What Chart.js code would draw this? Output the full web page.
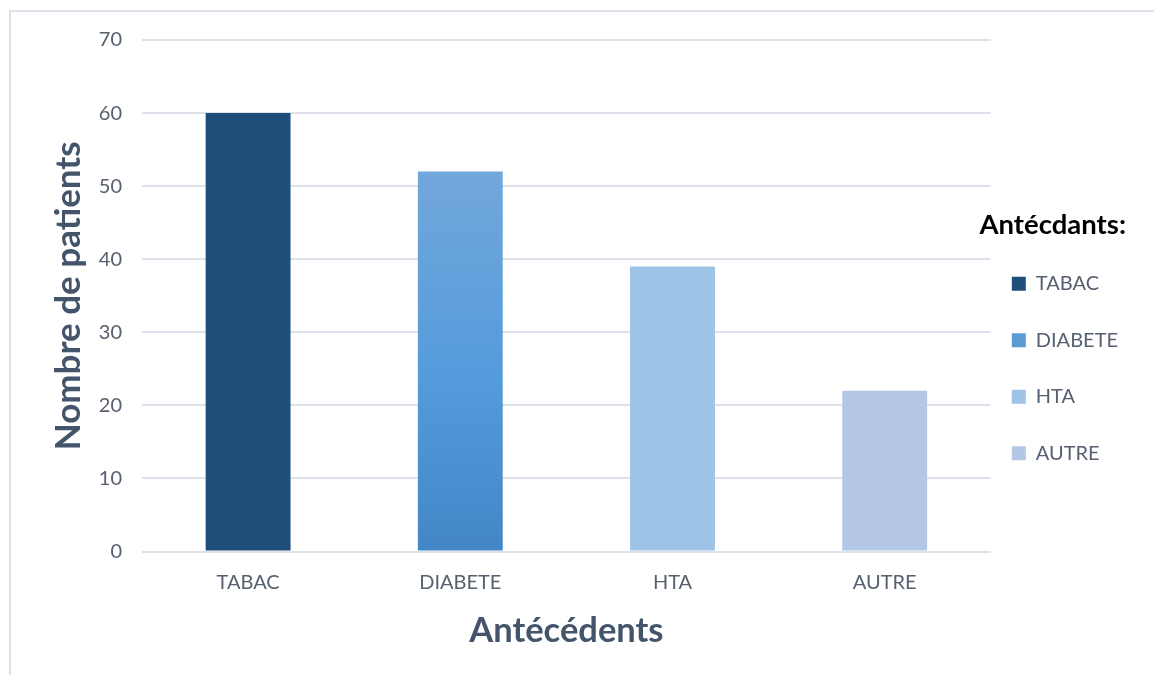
<!DOCTYPE html>
<html>
<head>
<meta charset="utf-8">
<script src="https://cdn.jsdelivr.net/npm/chart.js@4/dist/chart.umd.min.js"></script>
<style>
  html, body { margin: 0; padding: 0; background: #ffffff; }
  canvas { display: block; }
</style>
</head>
<body>
<canvas id="chart" width="1154" height="675"></canvas>
<script>
// Antécédents des patients
const categories = ['TABAC', 'DIABETE', 'HTA', 'AUTRE'];
const patients = [60, 52, 39, 22];
const yTicks = [0, 10, 20, 30, 40, 50, 60, 70];
const legendHeading = 'Antécdants:';

const FONT = 'Lato, "Open Sans", "DejaVu Sans", sans-serif';
const TICK_COLOR = '#56606F';
const TITLE_COLOR = '#44546A';
const GRID_COLOR = '#DDE2EA';
const TICK_SIZE = 20;
const HEADING_SIZE = 27.5;
const HEADING_PAD = { top: 6, bottom: 8.5 };
const LEGEND_PAD = 21;

// solid fills; DIABETE uses a vertical gradient (see barFill)
const solidColors = ['#1F4E79', '#5B9BD5', '#9DC3E6', '#B4C7E7'];

function barFill(context) {
  const i = context.dataIndex;
  if (i !== 1) return solidColors[i];
  const chart = context.chart;
  const y = chart.scales && chart.scales.y;
  if (!y) return solidColors[i];
  const top = y.getPixelForValue(patients[i]);
  const bottom = y.getPixelForValue(0);
  const g = chart.ctx.createLinearGradient(0, top, 0, bottom);
  g.addColorStop(0, '#72A7DB');
  g.addColorStop(0.55, '#549BDC');
  g.addColorStop(1, '#4286C6');
  return g;
}

// light frame along the top and left edges
const framePlugin = {
  id: 'frame',
  beforeDraw(chart) {
    const c = chart.ctx;
    c.save();
    c.fillStyle = '#ffffff';
    c.fillRect(0, 0, chart.width, chart.height);
    c.fillStyle = '#DCE2EA';
    c.fillRect(9, 10, chart.width - 9, 2);
    c.fillRect(9, 10, 2, chart.height - 10);
    c.restore();
  }
};

// The legend clips to its own box, so its heading (wider than the box)
// is painted here, unclipped, in the slot the legend reserves for it.
const legendHeadingPlugin = {
  id: 'legendHeading',
  afterDraw(chart) {
    const lg = chart.legend;
    if (!lg || !lg.legendHitBoxes || !lg.legendHitBoxes.length) return;
    const titleH = HEADING_SIZE * 1.2 + HEADING_PAD.top + HEADING_PAD.bottom;
    const y = lg.legendHitBoxes[0].top - LEGEND_PAD - titleH + HEADING_PAD.top + HEADING_SIZE / 2;
    const c = chart.ctx;
    c.save();
    c.font = 'bold ' + HEADING_SIZE + 'px ' + FONT;
    c.fillStyle = '#000000';
    c.textAlign = 'right';
    c.textBaseline = 'middle';
    c.fillText(legendHeading, lg.right - 2, y);
    c.restore();
  }
};

new Chart(document.getElementById('chart'), {
  type: 'bar',
  data: {
    labels: categories,
    datasets: [{
      label: 'Nombre de patients',
      data: patients,
      backgroundColor: barFill,
      borderWidth: 0,
      categoryPercentage: 0.8,
      barPercentage: 0.5
    }]
  },
  options: {
    responsive: false,
    animation: false,
    devicePixelRatio: 1,
    layout: { padding: { left: 47.6, top: 40, right: 26, bottom: 10 } },
    plugins: {
      tooltip: { enabled: false },
      legend: {
        position: 'right',
        align: 'center',
        title: {
          display: true,
          text: legendHeading,
          color: 'rgba(0,0,0,0)',
          font: { family: FONT, size: HEADING_SIZE, weight: 'bold', lineHeight: 1.2 },
          padding: HEADING_PAD
        },
        labels: {
          boxWidth: 14,
          boxHeight: 14,
          padding: LEGEND_PAD,
          color: TICK_COLOR,
          font: { family: FONT, size: TICK_SIZE, lineHeight: 35.5 / TICK_SIZE },
          generateLabels(chart) {
            return chart.data.labels.map((l, i) => ({
              text: [l],
              fillStyle: solidColors[i],
              strokeStyle: solidColors[i],
              fontColor: TICK_COLOR,
              lineWidth: 0,
              hidden: false,
              index: i
            }));
          }
        }
      }
    },
    scales: {
      x: {
        grid: { display: false, drawTicks: false },
        border: { display: false },
        ticks: { color: TICK_COLOR, font: { family: FONT, size: TICK_SIZE }, padding: 19 },
        title: {
          display: true,
          text: 'Antécédents',
          color: TITLE_COLOR,
          font: { family: FONT, size: 34.5, weight: 'bold', lineHeight: 1.0 },
          padding: { top: 0, bottom: 17 }
        }
      },
      y: {
        min: 0,
        max: 70,
        afterBuildTicks(axis) { axis.ticks = yTicks.map(v => ({ value: v })); },
        afterFit(axis) { axis.width = 94.4; },
        grid: { color: GRID_COLOR, lineWidth: 2, drawTicks: false },
        border: { display: false },
        ticks: { color: TICK_COLOR, font: { family: FONT, size: TICK_SIZE }, padding: 20 },
        title: {
          display: true,
          text: 'Nombre de patients',
          color: TITLE_COLOR,
          font: { family: FONT, size: 35, weight: 'bold', lineHeight: 1.2 },
          padding: { top: 0, bottom: 0 }
        }
      }
    }
  },
  plugins: [framePlugin, legendHeadingPlugin]
});
</script>
</body>
</html>
